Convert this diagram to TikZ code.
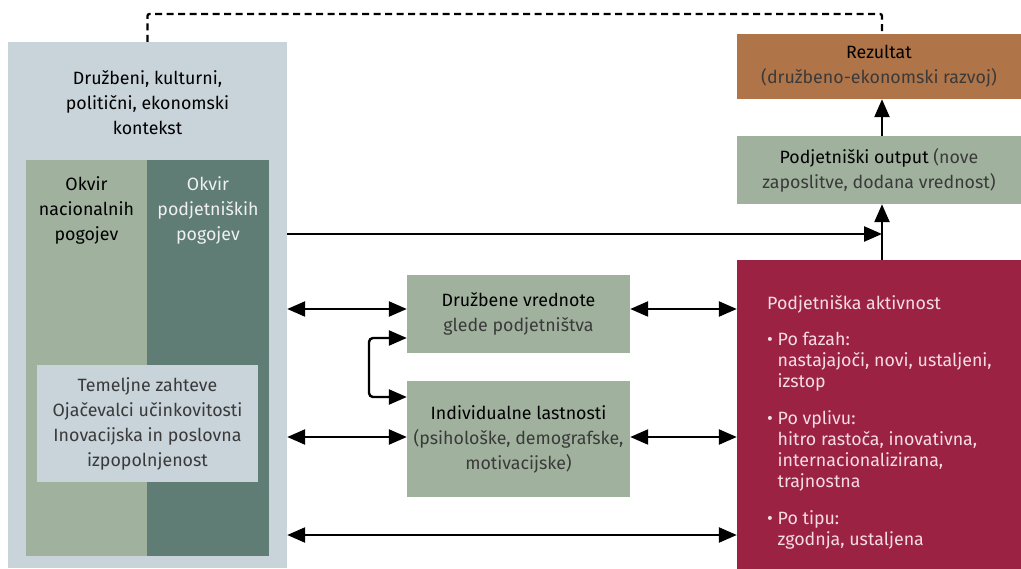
\documentclass[tikz,border=0pt]{standalone}
\usepackage{fontspec}
\setmainfont{Fira Sans}
\usetikzlibrary{arrows.meta,positioning}
\definecolor{ctxgray}{HTML}{C8D3DA}
\definecolor{sage1}{HTML}{A0B29E}
\definecolor{pine1}{HTML}{5F7D75}
\definecolor{rust1}{HTML}{B07449}
\definecolor{wine1}{HTML}{9B2243}
\definecolor{soft1}{HTML}{3A3A3A}
\definecolor{pink1}{HTML}{F5DCE3}

\tikzset{
  panel/.style={rectangle, inner sep=0pt, draw=none},
  txt/.style={inner sep=0pt, align=center, font=\fontsize{17.8}{25}\selectfont},
  dbl/.style={line width=2.4pt, {Triangle[length=18pt,width=15pt]}-{Triangle[length=18pt,width=15pt]}},
  arr/.style={line width=2.4pt, -{Triangle[length=18pt,width=15pt]}},
  dashline/.style={line width=2.3pt, dash pattern=on 7pt off 4.5pt, rounded corners=2pt}
}

\begin{document}
\begin{tikzpicture}[x=1pt, y=-1pt]
\useasboundingbox (0,0) rectangle (1021,569);

% Context block with the two frames
\node[panel, fill=ctxgray, minimum width=279pt, minimum height=526pt] (ctx) at (147.5,305) {};
\node[txt] (ctxtitle) at (147.5,103) {Družbeni, kulturni,\\ politični, ekonomski\\ kontekst};
\node[panel, fill=sage1, minimum width=121pt, minimum height=396pt] (nac) at (86.5,358) {};
\node[panel, fill=pine1, minimum width=122pt, minimum height=396pt] (pod) at (208,358) {};
\node[txt] (naclab) at (86.5,210) {Okvir\\ nacionalnih\\ pogojev};
\node[txt, text=white!94!black] (podlab) at (208,210) {Okvir\\ podjetniških\\ pogojev};
\node[panel, fill=ctxgray, minimum width=221pt, minimum height=117pt, txt, text=soft1] (temelj) at (147.5,423.5)
  {Temeljne zahteve\\ Ojačevalci učinkovitosti\\ Inovacijska in poslovna\\ izpopolnjenost};

% Middle blocks
\node[panel, fill=sage1, minimum width=223pt, minimum height=78pt, txt] (vred) at (518.5,314)
  {Družbene vrednote\\ \textcolor{soft1}{glede podjetništva}};
\node[panel, fill=sage1, minimum width=223pt, minimum height=116pt, txt] (indiv) at (518.5,439)
  {Individualne lastnosti\\ \textcolor{soft1}{(psihološke, demografske,}\\ \textcolor{soft1}{motivacijske)}};

% Right column
\node[panel, fill=rust1, minimum width=284pt, minimum height=65pt, txt] (rez) at (879,66.5)
  {Rezultat\\ \textcolor{soft1}{(družbeno-ekonomski razvoj)}};
\node[panel, fill=sage1, minimum width=284pt, minimum height=68pt, txt] (out) at (879,170)
  {Podjetniški output \textcolor{soft1}{(nove}\\ \textcolor{soft1}{zaposlitve, dodana vrednost)}};
\node[panel, fill=wine1, minimum width=284pt, minimum height=309pt] (act) at (879,414.5) {};
\node[txt, align=left, anchor=north west, text=pink1, font=\fontsize{17.8}{21}\selectfont] (acttext) at (767,295)
  {Podjetniška aktivnost\\[15pt]
   • Po fazah:\\ \phantom{• }nastajajoči, novi, ustaljeni,\\ \phantom{• }izstop\\[16pt]
   • Po vplivu:\\ \phantom{• }hitro rastoča, inovativna,\\ \phantom{• }internacionalizirana,\\ \phantom{• }trajnostna\\[16pt]
   • Po tipu:\\ \phantom{• }zgodnja, ustaljena};

% Connectors
\coordinate (vx) at (882,0);
\foreach \r/\y in {r1/309,r2/437,r3/535}
  \coordinate (\r) at (0,\y);
\draw[dbl] (ctx.east |- r1) -- (vred.west |- r1);
\draw[dbl] (vred.east |- r1) -- (act.west |- r1);
\draw[dbl] (ctx.east |- r2) -- (indiv.west |- r2);
\draw[dbl] (indiv.east |- r2) -- (act.west |- r2);
\draw[dbl] (ctx.east |- r3) -- (act.west |- r3);
\draw[dbl, rounded corners=4pt] (vred.west |- 0,338) -- (369,338) -- (369,397) -- (indiv.west |- 0,397);
\draw[arr] (ctx.east |- 0,234) -- (vx |- 0,234);
\draw[arr] (act.north -| vx) -- (out.south -| vx);
\draw[arr] (out.north -| vx) -- (rez.south -| vx);
\draw[dashline] (ctx.north) -- (147.5,14) -| (rez.north -| vx);

\end{tikzpicture}
\end{document}
